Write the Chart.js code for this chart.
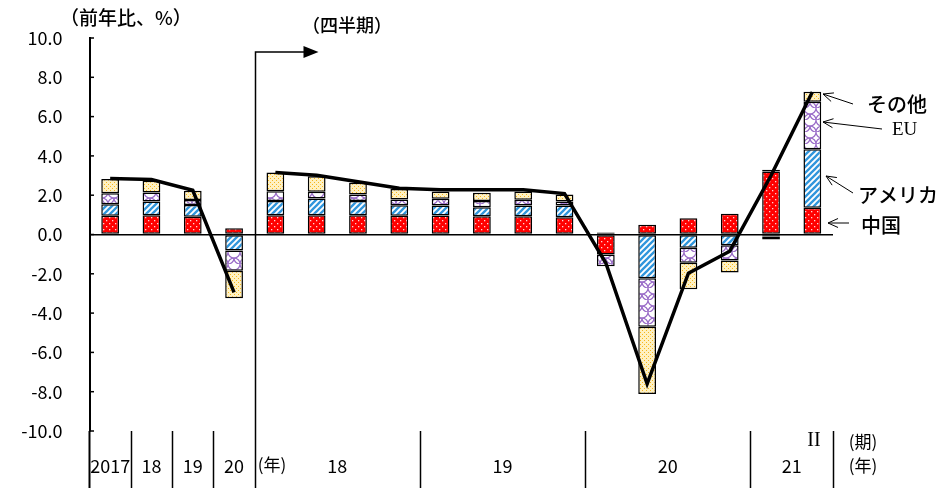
<!DOCTYPE html>
<html>
<head>
<meta charset="utf-8">
<script src="https://cdn.jsdelivr.net/npm/chart.js@4/dist/chart.umd.min.js"></script>
<style>
  html, body { margin: 0; padding: 0; background: #fff; }
  #wrap { width: 944px; height: 492px; }
</style>
</head>
<body>
<div id="wrap"><canvas id="c" width="944" height="492"></canvas></div>
<script>
// Periods: four calendar years, then quarters 2018 I .. 2021 II
const periods = ['2017', '2018', '2019', '2020',
  '2018 I', '2018 II', '2018 III', '2018 IV',
  '2019 I', '2019 II', '2019 III', '2019 IV',
  '2020 I', '2020 II', '2020 III', '2020 IV',
  '2021 I', '2021 II'];

// Contributions by destination (percentage points)
const china = [0.96, 0.98, 0.90, 0.32, 0.98, 0.98, 0.98, 0.95, 0.97, 0.93, 0.93, 0.88, -1.02, 0.50, 0.83, 1.05, 3.20, 1.36];
const usa   = [0.58, 0.70, 0.60, -0.82, 0.73, 0.85, 0.72, 0.54, 0.51, 0.46, 0.55, 0.60, 0.10, -2.23, -0.68, -0.55, 0.10, 2.98];
const eu    = [0.56, 0.46, 0.25, -1.02, 0.49, 0.34, 0.34, 0.29, 0.34, 0.31, 0.29, 0.20, -0.60, -2.46, -0.76, -0.77, -0.10, 2.42];
const other = [0.72, 0.60, 0.48, -1.40, 0.96, 0.80, 0.59, 0.53, 0.37, 0.42, 0.42, 0.35, null, -3.43, -1.35, -0.61, -0.15, 0.51];

// Total growth (% y/y): annual segment and quarterly segment
const totalAnnual    = [2.85, 2.80, 2.25, -2.95, null, null, null, null, null, null, null, null, null, null, null, null, null, null];
const totalQuarterly = [null, null, null, null, 3.15, 3.02, 2.68, 2.35, 2.28, 2.28, 2.28, 2.08, -1.45, -7.60, -1.97, -0.85, 3.00, 7.25];

// Axis captions
const yUnit = '（前年比、%）';
const quarterCaption = '（四半期）';
const seriesNames = ['中国', 'アメリカ', 'EU', 'その他'];
const yearLabels = [
  { text: '2017', at: 0 }, { text: '18', at: 1 }, { text: '19', at: 2 }, { text: '20', at: 3 },
  { text: '18', at: 5.5 }, { text: '19', at: 9.5 }, { text: '20', at: 13.5 }, { text: '21', at: 16.5 }
];

const JP = '"Noto Sans CJK JP", "Noto Sans", sans-serif';

function tile(w, h, paint) {
  const c = document.createElement('canvas');
  c.width = w; c.height = h;
  const g = c.getContext('2d');
  paint(g, w, h);
  return g.createPattern(c, 'repeat');
}

// Red with white dots
const patChina = tile(6, 6, (g) => {
  g.fillStyle = '#ff0000'; g.fillRect(0, 0, 6, 6);
  g.fillStyle = '#ffd6d6';
  g.fillRect(1, 1, 1.3, 1.3);
  g.fillRect(4, 4, 1.3, 1.3);
});
// White with blue diagonal stripes
const patUSA = tile(6, 6, (g) => {
  g.fillStyle = '#ffffff'; g.fillRect(0, 0, 6, 6);
  g.strokeStyle = '#2f95dc'; g.lineWidth = 2.3;
  [[-3, 3, 3, -3], [0, 6, 6, 0], [3, 9, 9, 3]].forEach(([a, b, c, d]) => {
    g.beginPath(); g.moveTo(a, b); g.lineTo(c, d); g.stroke();
  });
});
// White with purple scale pattern
const patEU = tile(12, 12, (g) => {
  g.fillStyle = '#ffffff'; g.fillRect(0, 0, 12, 12);
  g.strokeStyle = '#9a6cc8'; g.lineWidth = 1.2;
  g.beginPath(); g.arc(6, 0, 6, 0, Math.PI); g.stroke();
  g.beginPath(); g.arc(0, 6, 6, 0, Math.PI); g.stroke();
  g.beginPath(); g.arc(12, 6, 6, 0, Math.PI); g.stroke();
  g.beginPath(); g.arc(6, 12, 6, Math.PI, 2 * Math.PI); g.stroke();
});
// Pale yellow with orange speckles
const patOther = tile(4, 4, (g) => {
  g.fillStyle = '#fff1c2'; g.fillRect(0, 0, 4, 4);
  g.fillStyle = '#f6b71e';
  g.fillRect(0, 0, 1, 1);
  g.fillRect(2, 2, 1, 1);
});

function arrowOpen(ctx, x1, y1, x2, y2) {
  const ang = Math.atan2(y2 - y1, x2 - x1);
  const L = 11, a = 0.42;
  ctx.beginPath();
  ctx.moveTo(x1, y1); ctx.lineTo(x2, y2);
  ctx.moveTo(x2 - L * Math.cos(ang - a), y2 - L * Math.sin(ang - a));
  ctx.lineTo(x2, y2);
  ctx.lineTo(x2 - L * Math.cos(ang + a), y2 - L * Math.sin(ang + a));
  ctx.stroke();
}

const decorations = {
  id: 'decorations',
  afterDraw(chart) {
    const ctx = chart.ctx;
    const x = chart.scales.x, y = chart.scales.y;
    const area = chart.chartArea;
    const step = (x.getPixelForValue(1) - x.getPixelForValue(0));
    const bottom = 488;
    ctx.save();
    ctx.strokeStyle = '#000';
    ctx.fillStyle = '#000';

    // tick stubs on the inside of the value axis
    ctx.lineWidth = 1.5;
    y.ticks.forEach(t => {
      const py = y.getPixelForValue(t.value);
      ctx.beginPath(); ctx.moveTo(area.left, py); ctx.lineTo(area.left + 4.5, py); ctx.stroke();
    });

    // value axis continues through the period labels
    ctx.lineWidth = 2;
    ctx.beginPath(); ctx.moveTo(area.left, area.bottom); ctx.lineTo(area.left, bottom); ctx.stroke();

    // period separators below the plot
    ctx.lineWidth = 1.5;
    [1, 2, 3, 8, 12, 16, 18].forEach(i => {
      const px = Math.round(x.getPixelForValue(i) - step / 2) + 0.5;
      ctx.beginPath(); ctx.moveTo(px, area.bottom); ctx.lineTo(px, bottom); ctx.stroke();
    });

    // divider between annual and quarterly parts, with arrow
    const dx = Math.round(x.getPixelForValue(4) - step / 2) + 0.5;
    ctx.beginPath(); ctx.moveTo(dx, bottom); ctx.lineTo(dx, 52); ctx.lineTo(dx + 50, 52); ctx.stroke();
    ctx.beginPath(); ctx.moveTo(dx + 63, 52); ctx.lineTo(dx + 48, 46); ctx.lineTo(dx + 48, 58); ctx.closePath(); ctx.fill();

    // captions
    ctx.textBaseline = 'middle';
    ctx.textAlign = 'left';
    ctx.font = '500 19px ' + JP;
    ctx.fillText(yUnit, 60, 18);
    ctx.font = '500 18px ' + JP;
    ctx.fillText(quarterCaption, 302, 25);

    // period labels
    ctx.textAlign = 'center';
    ctx.font = '18px ' + JP;
    yearLabels.forEach(l => {
      ctx.fillText(l.text, x.getPixelForValue(0) + l.at * step, 466);
    });
    ctx.font = '17px ' + JP;
    ctx.fillText('(年)', 272, 465);
    ctx.fillText('(期)', 863, 442);
    ctx.fillText('(年)', 863, 466);
    ctx.font = '20px "Liberation Serif", serif';
    ctx.fillText('II', 814, 441);

    // series labels pointing at the last bar
    ctx.lineWidth = 1;
    arrowOpen(ctx, 853, 104, 823, 94);
    arrowOpen(ctx, 882, 129, 823, 122);
    arrowOpen(ctx, 853, 193, 826, 176);
    arrowOpen(ctx, 849, 223, 828, 223);
    ctx.textAlign = 'left';
    ctx.font = '500 20px ' + JP;
    ctx.fillText(seriesNames[3], 867, 104);
    ctx.fillText(seriesNames[1], 858, 195);
    ctx.fillText(seriesNames[0], 861, 225);
    ctx.font = '19px "Liberation Serif", serif';
    ctx.fillText(seriesNames[2], 892, 130);
    ctx.restore();
  }
};

const barCommon = { borderColor: '#000', borderWidth: 1.5, borderSkipped: false, order: 1, barPercentage: 0.43, categoryPercentage: 1.0 };

new Chart(document.getElementById('c'), {
  type: 'bar',
  data: {
    labels: periods,
    datasets: [
      Object.assign({ label: seriesNames[0], data: china, backgroundColor: patChina }, barCommon),
      Object.assign({ label: seriesNames[1], data: usa, backgroundColor: patUSA }, barCommon),
      Object.assign({ label: seriesNames[2], data: eu, backgroundColor: patEU }, barCommon),
      Object.assign({ label: seriesNames[3], data: other, backgroundColor: patOther }, barCommon),
      { type: 'line', label: 'total-a', data: totalAnnual, stack: 'lineA', borderColor: '#000', borderWidth: 3.5, pointRadius: 0, tension: 0, spanGaps: false, order: 0 },
      { type: 'line', label: 'total-q', data: totalQuarterly, stack: 'lineQ', borderColor: '#000', borderWidth: 3.5, pointRadius: 0, tension: 0, spanGaps: false, order: 0 }
    ]
  },
  options: {
    responsive: false,
    animation: false,
    layout: { padding: { left: 0, right: 111, top: 38, bottom: 61 } },
    plugins: { legend: { display: false }, tooltip: { enabled: false } },
    scales: {
      x: { stacked: true, display: false, offset: true },
      y: {
        stacked: true,
        min: -10, max: 10,
        afterFit: (s) => { s.width = 89.5; },
        ticks: { stepSize: 2, padding: 27, color: '#000', font: { family: JP, size: 18 }, callback: (v) => Number(v).toFixed(1) },
        grid: { drawTicks: false, lineWidth: 1.5, color: (c) => (c.tick && c.tick.value === 0 ? '#000' : 'rgba(0,0,0,0)') },
        border: { display: true, color: '#000', width: 2 }
      }
    }
  },
  plugins: [decorations]
});
</script>
</body>
</html>
